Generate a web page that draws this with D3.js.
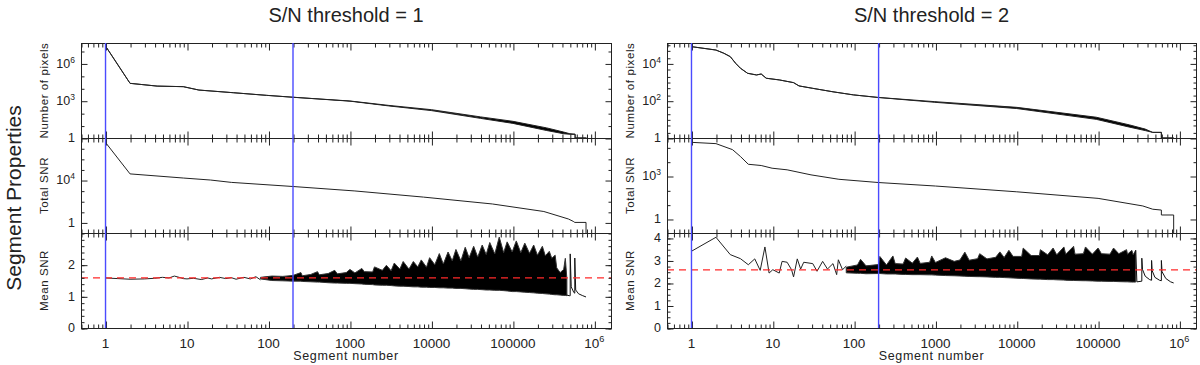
<!DOCTYPE html>
<html>
<head>
<meta charset="utf-8">
<script src="https://cdn.jsdelivr.net/npm/d3@7"></script>
<style>
  body { margin: 0; background: #fff; }
  text { font-family: "Liberation Sans", Arial, sans-serif; fill: #222; }
</style>
</head>
<body>
<svg id="chart" width="1200" height="365"></svg>
<script>
// ---- data ----
const titles = ["S/N threshold = 1", "S/N threshold = 2"];
const vlinesX = [1, 200];
const meanLevel = [1.58, 2.58];
const majorX = [1, 10, 100, 1000, 10000, 100000, 1000000];

// S/N threshold = 1
const npix1X  = [1, 2, 4.3, 9, 14, 37, 95, 200, 1000, 3000, 10000, 40000, 100000, 260000, 420000, 500000, 580000, 580000, 800000];
const npix1Hi = [2.5e7, 2.5e4, 1.5e4, 1.35e4, 7200, 4400, 2700, 1900, 950, 420, 190, 50, 22, 6.5, 3, 2.2, 2, 1, 1];
const npix1Lo = [2.5e7, 2.5e4, 1.5e4, 1.35e4, 7200, 4400, 2700, 1900, 920, 380, 160, 38, 15, 4, 2.2, 2, 2, 1, 1];

const tsnr1X = [1, 2, 9, 19.5, 35, 200, 1150, 8000, 56000, 240000, 480000, 550000, 575000, 790000, 790000];
const tsnr1Y = [3.5e7, 3.8e4, 1.55e4, 1e4, 6000, 2450, 930, 245, 55, 10.7, 2.1, 1.26, 1.0, 1.0, 0.05];

const msnr1X = [1, 2, 3, 4, 5, 6, 7, 8, 9, 10, 12, 15, 18, 20, 25, 30, 35, 40, 50, 60, 70, 80];
const msnr1Y = [1.58, 1.54, 1.55, 1.57, 1.6, 1.58, 1.64, 1.6, 1.56, 1.55, 1.57, 1.53, 1.58, 1.55, 1.6, 1.56, 1.59, 1.54, 1.6, 1.55, 1.62, 1.52];
const band1X  = [80, 110, 150, 200, 250, 260, 330, 400, 420, 540, 650, 700, 900, 1000, 1150, 1400, 1500, 1900, 2000, 2500, 2800, 3200, 3500, 4100, 4500, 5300, 6000, 6800, 7500, 8700, 9500, 11000, 12500, 14000, 16000, 18000, 20000, 23000, 26000, 29000, 33000, 37000, 42000, 47000, 52000, 60000, 68000, 77000, 85000, 98000, 110000, 125000, 140000, 160000, 180000, 200000, 230000, 250000, 280000, 300000, 330000, 345000, 380000, 420000, 440000, 460000];
const band1Hi = [1.60, 1.64, 1.63, 1.66, 1.75, 1.65, 1.69, 1.78, 1.68, 1.72, 1.82, 1.71, 1.75, 1.85, 1.74, 1.88, 1.78, 1.77, 1.93, 1.82, 1.98, 1.81, 2.05, 1.86, 2.10, 1.86, 2.10, 1.93, 2.15, 1.92, 2.22, 2.00, 2.35, 2.02, 2.40, 2.12, 2.48, 2.12, 2.55, 2.22, 2.58, 2.24, 2.62, 2.32, 2.70, 2.34, 2.87, 2.38, 2.72, 2.40, 2.75, 2.38, 2.68, 2.36, 2.62, 2.30, 2.58, 2.28, 2.42, 2.20, 2.30, 1.90, 1.75, 1.85, 2.20, 1.55];
const band1Lo = [1.55, 1.50, 1.49, 1.48, 1.48, 1.47, 1.46, 1.45, 1.45, 1.43, 1.42, 1.42, 1.41, 1.41, 1.40, 1.39, 1.38, 1.37, 1.36, 1.35, 1.35, 1.34, 1.33, 1.32, 1.32, 1.31, 1.30, 1.30, 1.29, 1.29, 1.28, 1.28, 1.27, 1.27, 1.26, 1.26, 1.25, 1.25, 1.24, 1.23, 1.22, 1.22, 1.21, 1.20, 1.20, 1.19, 1.19, 1.18, 1.17, 1.15, 1.15, 1.14, 1.13, 1.12, 1.11, 1.10, 1.09, 1.08, 1.07, 1.06, 1.05, 1.05, 1.04, 1.03, 1.03, 1.02];
const tail1X = [460000, 490000, 505000, 505000, 520000, 560000, 575000, 575000, 590000, 640000, 720000, 790000];
const tail1Y = [1.04, 1.02, 1.02, 2.34, 1.30, 1.12, 1.10, 2.21, 1.20, 1.08, 1.02, 0.98];

// S/N threshold = 2
const npix2X  = [1, 2, 2.5, 3, 3.5, 4, 4.9, 6.3, 7.2, 8.3, 12, 18, 21, 31, 55, 98, 195, 980, 10000, 95000, 245000, 380000, 470000, 600000, 600000, 850000];
const npix2Hi = [79000, 52000, 35000, 23000, 10000, 5500, 2950, 2400, 2700, 1600, 1300, 930, 620, 460, 300, 205, 150, 89, 44, 13, 5, 3, 2, 2, 1, 1];
const npix2Lo = [79000, 52000, 35000, 23000, 10000, 5500, 2950, 2400, 2700, 1600, 1300, 930, 620, 460, 300, 205, 150, 82, 38, 10, 3.8, 2.5, 2, 2, 1, 1];

const tsnr2X = [1, 2, 3.2, 4, 5, 7.2, 9.8, 15, 29.5, 65, 200, 1000, 10000, 100000, 355000, 470000, 600000, 600000, 850000, 850000];
const tsnr2Y = [224000, 182000, 69000, 23000, 6600, 5400, 3500, 2700, 1200, 590, 350, 200, 79, 27.5, 8.1, 4.8, 4.2, 1.9, 1.9, 0.05];

const msnr2X = [1, 2, 3, 4, 5, 6, 7, 8, 9, 10, 12, 13, 15, 17, 18, 20, 22, 24, 31, 35, 41, 47, 55, 61, 64, 72, 80];
const msnr2Y = [3.41, 4.03, 3.26, 3.08, 2.81, 3.07, 2.56, 3.6, 2.44, 2.59, 2.44, 2.96, 2.92, 2.59, 2.27, 3.07, 2.62, 2.92, 2.86, 2.52, 2.96, 2.62, 2.86, 2.37, 3.03, 2.59, 2.75];
const band2X  = [80, 110, 120, 140, 200, 207, 250, 300, 320, 400, 430, 520, 600, 650, 850, 900, 1000, 1330, 1700, 2000, 2300, 2600, 3300, 3500, 4300, 5500, 6200, 7000, 8000, 9000, 11500, 12000, 15000, 19000, 19500, 24000, 28000, 31000, 38000, 40000, 50000, 52000, 66000, 70000, 85000, 100000, 110000, 140000, 155000, 180000, 224000, 230000, 260000, 270000, 290000];
const band2Hi = [2.70, 2.80, 3.05, 2.76, 2.82, 3.18, 2.80, 3.20, 2.86, 2.84, 3.11, 2.88, 3.15, 2.87, 2.92, 3.20, 2.91, 3.12, 2.96, 3.02, 3.37, 3.01, 3.08, 3.30, 3.07, 3.14, 3.38, 3.13, 3.45, 3.18, 3.18, 3.55, 3.22, 3.22, 3.48, 3.25, 3.55, 3.25, 3.60, 3.28, 3.63, 3.28, 3.30, 3.60, 3.28, 3.55, 3.30, 3.28, 3.55, 3.30, 3.48, 3.28, 3.45, 3.25, 3.45];
const band2Lo = [2.45, 2.43, 2.43, 2.41, 2.42, 2.42, 2.40, 2.40, 2.40, 2.38, 2.38, 2.37, 2.37, 2.37, 2.36, 2.36, 2.35, 2.33, 2.32, 2.31, 2.30, 2.29, 2.28, 2.28, 2.27, 2.25, 2.25, 2.24, 2.23, 2.22, 2.20, 2.20, 2.18, 2.17, 2.17, 2.15, 2.15, 2.14, 2.13, 2.12, 2.11, 2.11, 2.10, 2.10, 2.09, 2.08, 2.08, 2.07, 2.07, 2.06, 2.05, 2.05, 2.04, 2.04, 2.04];
const tail2X = [290000, 300000, 345000, 345000, 352000, 380000, 430000, 455000, 455000, 462000, 500000, 570000, 600000, 600000, 612000, 680000, 780000, 850000];
const tail2Y = [3.45, 2.05, 2.08, 3.10, 2.60, 2.30, 2.15, 2.12, 3.00, 2.55, 2.25, 2.12, 2.10, 3.00, 2.50, 2.20, 2.05, 2.00];

// ---- layout ----
const rows = [43, 138, 233, 328];
const columns = [
  { x0: 81, x1: 611, title: titles[0], mean: meanLevel[0],
    npix: { domain: [1, 4.4e7], majors: [1, 1e3, 1e6], minors: [10, 100, 1e4, 1e5, 1e7] },
    tsnr: { domain: [0.1, 9.3e7], majors: [1, 1e4], minors: [10, 100, 1000, 1e5, 1e6, 1e7] },
    msnr: { domain: [0, 3], majors: [0, 1, 2], step: 0.2 },
    npixX: npix1X, npixHi: npix1Hi, npixLo: npix1Lo,
    tsnrX: tsnr1X, tsnrY: tsnr1Y,
    msnrX: msnr1X, msnrY: msnr1Y, bandX: band1X, bandHi: band1Hi, bandLo: band1Lo,
    tailX: tail1X, tailY: tail1Y },
  { x0: 667, x1: 1196, title: titles[1], mean: meanLevel[1],
    npix: { domain: [1, 1.24e5], majors: [1, 100, 1e4], minors: [2, 5, 10, 20, 50, 200, 500, 1000, 2000, 5000, 2e4, 5e4, 1e5] },
    tsnr: { domain: [0.105, 4.5e5], majors: [1, 1000], minors: [10, 100, 1e4, 1e5] },
    msnr: { domain: [0, 4.22], majors: [0, 1, 2, 3, 4], step: 0.25 },
    npixX: npix2X, npixHi: npix2Hi, npixLo: npix2Lo,
    tsnrX: tsnr2X, tsnrY: tsnr2Y,
    msnrX: msnr2X, msnrY: msnr2Y, bandX: band2X, bandHi: band2Hi, bandLo: band2Lo,
    tailX: tail2X, tailY: tail2Y }
];

const svg = d3.select("#chart");
const defs = svg.append("defs");

// minor x ticks: 2..9 times each decade
const minorX = [];
for (let k = -1; k <= 6; k++) for (let m = 2; m <= 9; m++) minorX.push(m * Math.pow(10, k));

function label(g, v, x, y, isLog, anchor, size) {
  const t = g.append("text").attr("x", x).attr("y", y).attr("dy", "0.35em")
    .attr("text-anchor", anchor).attr("font-size", size);
  if (isLog && v !== 1) {
    t.append("tspan").text("10");
    t.append("tspan").attr("dy", "-0.6em").attr("font-size", "0.68em").text(Math.round(Math.log10(v)));
  } else {
    t.text(v);
  }
}

function tickAxis(g, axis) {
  g.call(axis.tickFormat(""));
  g.select(".domain").remove();
  g.selectAll("line").attr("stroke", "#222");
}

columns.forEach((c, ci) => {
  const g = svg.append("g");
  const x = d3.scaleLog().domain([0.5, 1.6e6]).range([c.x0, c.x1]);
  const inX = v => v >= 0.5 && v <= 1.6e6;

  const panels = [
    { key: "npix", log: true, cfg: c.npix, top: rows[0], bottom: rows[1], name: "Number of pixels" },
    { key: "tsnr", log: true, cfg: c.tsnr, top: rows[1], bottom: rows[2], name: "Total SNR" },
    { key: "msnr", log: false, cfg: c.msnr, top: rows[2], bottom: rows[3], name: "Mean SNR" }
  ];

  panels.forEach((p, pi) => {
    const y = (p.log ? d3.scaleLog() : d3.scaleLinear()).domain(p.cfg.domain).range([p.bottom, p.top]);
    const clipId = "clip" + ci + pi;
    defs.append("clipPath").attr("id", clipId).append("rect")
      .attr("x", c.x0).attr("y", p.top).attr("width", c.x1 - c.x0).attr("height", p.bottom - p.top);
    const data = g.append("g").attr("clip-path", "url(#" + clipId + ")");

    if (p.key === "npix") {
      const pts = c.npixX.map((v, i) => ({ x: v, hi: c.npixHi[i], lo: c.npixLo[i] }));
      data.append("path").datum(pts)
        .attr("d", d3.area().x(d => x(d.x)).y0(d => y(d.lo)).y1(d => y(d.hi)))
        .attr("fill", "#000").attr("stroke", "#222").attr("stroke-width", 1);
    } else if (p.key === "tsnr") {
      const pts = c.tsnrX.map((v, i) => [v, c.tsnrY[i]]);
      data.append("path").datum(pts)
        .attr("d", d3.line().x(d => x(d[0])).y(d => y(d[1])))
        .attr("fill", "none").attr("stroke", "#222").attr("stroke-width", 1);
    } else {
      const line = d3.line().x(d => x(d[0])).y(d => y(d[1]));
      data.append("path").datum(c.msnrX.map((v, i) => [v, c.msnrY[i]]))
        .attr("d", line).attr("fill", "none").attr("stroke", "#222").attr("stroke-width", 1);
      const band = c.bandX.map((v, i) => ({ x: v, hi: c.bandHi[i], lo: c.bandLo[i] }));
      data.append("path").datum(band)
        .attr("d", d3.area().x(d => x(d.x)).y0(d => y(d.lo)).y1(d => y(d.hi)))
        .attr("fill", "#000").attr("stroke", "#333").attr("stroke-width", 1);
      data.append("path").datum(c.tailX.map((v, i) => [v, c.tailY[i]]))
        .attr("d", line).attr("fill", "none").attr("stroke", "#111").attr("stroke-width", 1);
      data.append("line")
        .attr("x1", c.x0).attr("x2", c.x1).attr("y1", y(c.mean)).attr("y2", y(c.mean))
        .attr("stroke", "#ff2a2a").attr("stroke-width", 1.3).attr("stroke-dasharray", "7,5");
    }

    // frame
    g.append("rect").attr("x", c.x0 + 0.5).attr("y", p.top + 0.5)
      .attr("width", c.x1 - c.x0).attr("height", p.bottom - p.top)
      .attr("fill", "none").attr("stroke", "#222").attr("stroke-width", 1);

    // x ticks: top pointing down, bottom pointing up
    const mX = minorX.filter(inX), MX = majorX.filter(inX);
    tickAxis(g.append("g").attr("transform", `translate(0.5,${p.top + 0.5})`), d3.axisBottom(x).tickValues(mX).tickSize(4));
    tickAxis(g.append("g").attr("transform", `translate(0.5,${p.top + 0.5})`), d3.axisBottom(x).tickValues(MX).tickSize(7));
    tickAxis(g.append("g").attr("transform", `translate(0.5,${p.bottom + 0.5})`), d3.axisTop(x).tickValues(mX).tickSize(4));
    tickAxis(g.append("g").attr("transform", `translate(0.5,${p.bottom + 0.5})`), d3.axisTop(x).tickValues(MX).tickSize(7));

    // y ticks on both sides pointing inward
    let minorsY = p.log ? p.cfg.minors : d3.range(0, p.cfg.domain[1] + 1e-9, p.cfg.step);
    minorsY = minorsY.filter(v => v >= p.cfg.domain[0] && v <= p.cfg.domain[1]);
    tickAxis(g.append("g").attr("transform", `translate(${c.x0 + 0.5},0.5)`), d3.axisRight(y).tickValues(minorsY).tickSize(3));
    tickAxis(g.append("g").attr("transform", `translate(${c.x0 + 0.5},0.5)`), d3.axisRight(y).tickValues(p.cfg.majors).tickSize(6));
    tickAxis(g.append("g").attr("transform", `translate(${c.x1 + 0.5},0.5)`), d3.axisLeft(y).tickValues(minorsY).tickSize(3));
    tickAxis(g.append("g").attr("transform", `translate(${c.x1 + 0.5},0.5)`), d3.axisLeft(y).tickValues(p.cfg.majors).tickSize(6));

    // y tick labels
    p.cfg.majors.forEach(v => label(g, v, c.x0 - 6, y(v), p.log, "end", 12.5));

    // y axis title
    g.append("text")
      .attr("transform", `translate(${c.x0 - 33},${(p.top + p.bottom) / 2}) rotate(-90)`)
      .attr("text-anchor", "middle").attr("font-size", 11.5).attr("letter-spacing", 0.6)
      .text(p.name);
  });

  // vertical blue markers
  vlinesX.forEach(v => {
    g.append("line").attr("x1", x(v)).attr("x2", x(v)).attr("y1", rows[0]).attr("y2", rows[3])
      .attr("stroke", "#4b4bff").attr("stroke-width", 1.4);
  });

  // x tick labels
  majorX.forEach(v => label(g, v, x(v), 343, v === 1000000, "middle", 13.5));

  g.append("text").attr("x", (c.x0 + c.x1) / 2).attr("y", 360)
    .attr("text-anchor", "middle").attr("font-size", 12.5).attr("letter-spacing", 0.7)
    .text("Segment number");

  g.append("text").attr("x", (c.x0 + c.x1) / 2).attr("y", 22)
    .attr("text-anchor", "middle").attr("font-size", 20)
    .text(c.title);
});

svg.append("text")
  .attr("transform", "translate(21,198) rotate(-90)")
  .attr("text-anchor", "middle").attr("font-size", 21)
  .text("Segment Properties");
</script>
</body>
</html>
